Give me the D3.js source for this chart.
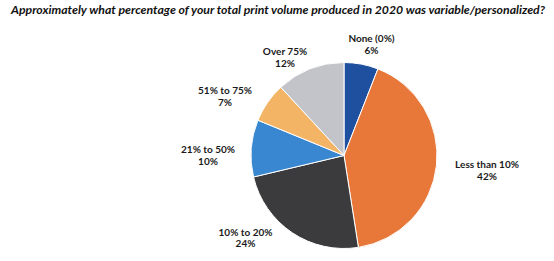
<!DOCTYPE html>
<html>
<head>
<meta charset="utf-8">
<script src="https://cdn.jsdelivr.net/npm/d3@7"></script>
<style>
  html, body { margin: 0; padding: 0; background: #ffffff; }
  svg { display: block; }
</style>
</head>
<body>
<svg id="chart" width="554" height="261"></svg>
<script>
// ---- data ----
const title = "Approximately what percentage of your total print volume produced in 2020 was variable/personalized?";
const categories = ["None (0%)", "Less than 10%", "10% to 20%", "21% to 50%", "51% to 75%", "Over 75%"];
const values = [6, 42, 24, 10, 7, 12];
const valueLabels = ["6%", "42%", "24%", "10%", "7%", "12%"];

// ---- style / layout ----
const colors = ["#1f4f9f", "#e8783a", "#3b3b3d", "#3a87d1", "#f3b466", "#c2c4c9"];
const W = 554, H = 261;
const cx = 344, cy = 155.5, radius = 93;
// label block centers relative to pie center
const labelOffsets = [[27.5, -111], [143, 15], [-98.5, 82.5], [-136, 0], [-119, -59], [-59, -98]];

const svg = d3.select("#chart");
svg.append("rect").attr("width", W).attr("height", H).attr("fill", "#ffffff");

svg.append("text")
  .attr("x", 11).attr("y", 14)
  .attr("font-family", "Lato, 'DejaVu Sans', sans-serif")
  .attr("font-weight", "bold").attr("font-style", "italic")
  .attr("font-size", 12)
  .attr("textLength", 534).attr("lengthAdjust", "spacingAndGlyphs")
  .attr("fill", "#111")
  .text(title);

const color = d3.scaleOrdinal().domain(categories).range(colors);
const pie = d3.pie().sort(null).value(d => d.value);
const arc = d3.arc().innerRadius(0).outerRadius(radius);

const data = categories.map((c, i) => ({ cat: c, value: values[i], label: valueLabels[i], off: labelOffsets[i] }));
const g = svg.append("g").attr("transform", `translate(${cx},${cy})`);

g.selectAll("path.slice")
  .data(pie(data))
  .join("path")
  .attr("class", "slice")
  .attr("d", arc)
  .attr("fill", d => color(d.data.cat))
  .attr("stroke", "#ffffff")
  .attr("stroke-width", 1);

const lbl = g.selectAll("text.lbl")
  .data(pie(data))
  .join("text")
  .attr("class", "lbl")
  .attr("text-anchor", "middle")
  .attr("font-family", "Lato, 'DejaVu Sans', sans-serif")
  .attr("font-weight", "bold")
  .attr("font-size", 10)
  .attr("fill", "#1a1a1a")
  .attr("transform", d => `translate(${d.data.off[0]},${d.data.off[1]})`);

lbl.append("tspan").attr("x", 0).attr("y", -2.5).text(d => d.data.cat);
lbl.append("tspan").attr("x", 0).attr("y", 9).text(d => d.data.label);
</script>
</body>
</html>
